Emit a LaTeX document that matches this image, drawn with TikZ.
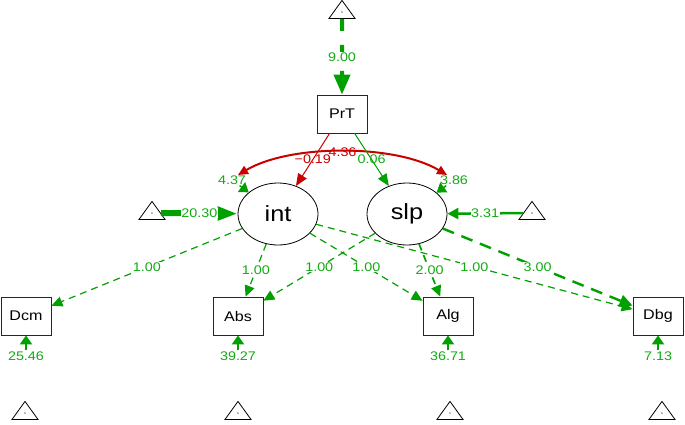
\documentclass[tikz,border=0pt]{standalone}
\usepackage{fontspec}
\setmainfont{Liberation Sans}[FakeStretch=1.15]
\usetikzlibrary{arrows.meta,shapes.geometric}
\definecolor{sg}{RGB}{0,160,0}
\definecolor{sgt}{RGB}{20,170,20}
\definecolor{sr}{RGB}{200,0,0}
\begin{document}
\begin{tikzpicture}[x=1pt,y=-1pt,
  box/.style={draw=black!85, line width=0.8pt, minimum width=50pt, minimum height=38pt, inner sep=0pt, font=\fontsize{14}{14}\selectfont},
  lat/.style={ellipse, draw, line width=0.8pt, minimum width=80pt, minimum height=62pt, inner sep=0pt, font=\fontsize{22}{22}\selectfont},
  tri/.style={isosceles triangle, shape border rotate=90, isosceles triangle stretches, draw, line width=0.8pt, minimum width=26pt, minimum height=18pt, inner sep=0pt, font=\fontsize{3}{3}\selectfont},
  lab/.style={text=sgt, font=\fontsize{12.5}{12.5}\selectfont, fill=white, inner sep=0.6pt},
  labr/.style={lab, text=sr},
  labn/.style={text=sgt, font=\fontsize{12.5}{12.5}\selectfont, inner sep=1pt},
  ld/.style={draw=sg, line width=1.2pt, dash pattern=on 7pt off 5pt, -{Triangle[length=11pt,width=10pt]}},
  ld3/.style={draw=sg, line width=2.4pt, dash pattern=on 12pt off 8pt, -{Triangle[length=13pt,width=12pt]}},
  res/.style={draw=sg, line width=2pt, -{Triangle[length=9pt,width=12pt]}},
  reg/.style={line width=1pt, -{Triangle[length=12pt,width=10pt]}},
  cov/.style={draw=sr, line width=2pt, {Triangle[length=10pt,width=9pt]}-{Triangle[length=10pt,width=9pt]}}
]
\useasboundingbox (0,0) rectangle (685,424);

% nodes
\node[box] (prt) at (342,114) {PrT};
\node[lat] (int) at (278,214) {int};
\node[lat] (slp) at (407,214) {slp};
\node[box] (dcm) at (26,316) {Dcm};
\node[box] (abs) at (238,316) {Abs};
\node[box] (alg) at (448,316) {Alg};
\node[box] (dbg) at (658,316) {Dbg};

\node[tri] (t0) at (342,12) {1};
\node[tri] (tl) at (152,213) {1};
\node[tri] (tr) at (532,213) {1};
\node[tri] (b1) at (25,413) {1};
\node[tri] (b2) at (238,413) {1};
\node[tri] (b3) at (450,413) {1};
\node[tri] (b4) at (662,413) {1};

% residual labels
\node[labn] (rdcm) at (26,356) {25.46};
\node[labn] (rabs) at (238,356) {39.27};
\node[labn] (ralg) at (448,356) {36.71};
\node[labn] (rdbg) at (658,356) {7.13};
\node[labn] (rint) at (232,180) {4.37};
\node[labn] (rslp) at (454,180) {3.86};

\coordinate (c1) at (238,175);
\coordinate (c2) at (447,175);

% covariance
\draw[cov] (c1) .. controls (290,144) and (395,144) .. node[labr, pos=0.5, fill=none] {4.36} (c2);

% intercept arrows
\draw[draw=sg, line width=4pt, dash pattern=on 12pt off 14pt, -{Triangle[length=20pt,width=16pt]}] (t0) -- node[lab]{9.00} (prt);
\draw[draw=sg, line width=6pt, -{Triangle[length=20pt,width=13pt]}] (tl) -- node[lab]{20.30} (int);
\draw[draw=sg, line width=2.5pt, -{Triangle[length=11pt,width=11pt]}] (tr) -- node[lab]{3.31} (slp);

% regressions
\draw[reg, draw=sr, color=sr] (prt) -- node[labr, fill=none]{−0.19} (int);
\draw[reg, draw=sg, color=sg] (prt) -- node[lab, fill=none]{0.06} (slp);

% latent residuals
\draw[res, line width=1.5pt] (rint) -- (int);
\draw[res, line width=1.5pt] (rslp) -- (slp);

% loadings
\draw[ld] (int) -- node[lab]{1.00} (dcm);
\draw[ld] (int) -- node[lab]{1.00} (abs);
\draw[ld] (int) -- node[lab]{1.00} (alg);
\draw[ld] (int) -- node[lab]{1.00} (dbg);
\draw[ld] (slp) -- node[lab]{1.00} (abs);
\draw[ld, line width=1.7pt] (slp) -- node[lab]{2.00} (alg);
\draw[ld3] (slp) -- node[lab]{3.00} (dbg);

% observed residuals
\draw[res] (rdcm) -- (dcm);
\draw[res] (rabs) -- (abs);
\draw[res] (ralg) -- (alg);
\draw[res] (rdbg) -- (dbg);
\end{tikzpicture}
\end{document}
